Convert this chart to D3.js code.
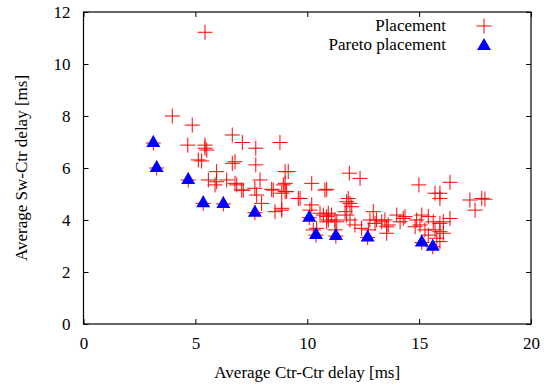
<!DOCTYPE html>
<html>
<head>
<meta charset="utf-8">
<script src="https://cdn.jsdelivr.net/npm/d3@7"></script>
<style>
  body { margin: 0; background: #fff; }
  svg text { font-family: "Liberation Serif", "Times New Roman", serif; fill: #000; }
</style>
</head>
<body>
<div id="chart"></div>
<script>
// chart size
let width = 544;
let height = 387;
let margin = {top: 12, right: 13, bottom: 63, left: 83.5};

// tick values
let xTicks = [0, 5, 10, 15, 20];
let yTicks = [0, 2, 4, 6, 8, 10, 12];

// all placements: [ctr-ctr, sw-ctr]
let placement = [
  [5.43, 11.22], [3.97, 8.0], [4.86, 7.65], [6.65, 7.27], [7.10, 6.98], [7.70, 6.76],
  [8.78, 6.98], [4.66, 6.88], [5.43, 6.88], [5.43, 6.76], [5.51, 6.69], [5.28, 6.27],
  [5.13, 6.31], [6.77, 6.24], [6.65, 6.18], [7.70, 6.12], [5.95, 5.86], [9.01, 5.86],
  [9.15, 5.86], [5.58, 5.54], [5.95, 5.47], [5.88, 5.35], [6.40, 5.54], [6.85, 5.35],
  [7.14, 5.15], [7.89, 5.54], [7.66, 5.22], [8.48, 5.15], [8.93, 5.35], [9.08, 5.09],
  [9.60, 4.83], [7.96, 4.64], [7.74, 4.96], [8.56, 4.32], [8.86, 4.45], [7.07, 5.15],
  [6.77, 5.41], [8.41, 5.18], [8.86, 5.03], [10.20, 5.41], [10.79, 5.15], [9.68, 4.83],
  [8.86, 4.38], [10.20, 4.58], [10.57, 4.26], [10.87, 4.13], [10.12, 4.38], [10.87, 3.93],
  [9.01, 5.41], [9.01, 5.09], [10.87, 5.18], [11.88, 5.80], [12.36, 5.60], [11.76, 4.70],
  [11.83, 4.83], [11.99, 4.51], [11.69, 4.32], [10.72, 4.19], [10.94, 4.26], [11.24, 4.0],
  [10.94, 4.0], [11.91, 4.0], [12.13, 3.81], [12.95, 4.32], [12.80, 4.0], [13.10, 4.0],
  [13.55, 3.74], [13.47, 4.0], [14.00, 4.19], [14.37, 4.13], [14.15, 3.93], [14.99, 5.35],
  [14.82, 3.74], [12.73, 3.62], [10.27, 3.62], [10.42, 3.68], [11.24, 3.62], [11.91, 4.64],
  [11.09, 4.19], [11.32, 3.93], [11.76, 4.19], [13.03, 3.87], [13.33, 3.93], [13.62, 3.81],
  [13.55, 3.49], [14.89, 4.0], [15.04, 3.81], [12.43, 3.68], [16.38, 5.45], [15.71, 5.03],
  [15.93, 5.03], [15.93, 4.83], [17.27, 4.77], [17.80, 4.83], [17.94, 4.80], [17.50, 4.38],
  [14.29, 4.06], [15.12, 4.19], [15.41, 4.13], [15.63, 3.93], [15.93, 3.87], [16.08, 3.93],
  [16.38, 4.06], [15.71, 3.62], [15.93, 3.55], [16.08, 3.49], [15.79, 3.30], [15.93, 3.17],
  [15.26, 3.62], [15.41, 3.42],
  [3.12, 6.96], [3.27, 6.0], [4.68, 5.54], [5.35, 4.64], [6.25, 4.62], [7.66, 4.28],
  [10.09, 4.09], [10.39, 3.42], [11.28, 3.38], [12.70, 3.33], [15.12, 3.13], [15.61, 2.97]
];

// pareto-optimal placements
let pareto = [
  [3.12, 6.96], [3.27, 6.0], [4.68, 5.54], [5.35, 4.64], [6.25, 4.62], [7.66, 4.28],
  [10.09, 4.09], [10.39, 3.42], [11.28, 3.38], [12.70, 3.33], [15.12, 3.13], [15.61, 2.97]
];

let legendNames = ["Placement", "Pareto placement"];

let innerWidth = width - margin.left - margin.right;
let innerHeight = height - margin.top - margin.bottom;

let xScale = d3.scaleLinear().domain([0, 20]).range([0, innerWidth]);
let yScale = d3.scaleLinear().domain([0, 12]).range([innerHeight, 0]);

let svg = d3.select("#chart").append("svg")
  .attr("width", width)
  .attr("height", height);

let g = svg.append("g").attr("transform", `translate(${margin.left}, ${margin.top})`);

// gnuplot style: inward ticks on all sides
function styleAxis(sel) {
  sel.select(".domain").remove();
  sel.selectAll(".tick line").attr("stroke", "#000");
  sel.selectAll("text").style("font-size", "17px");
}
// mirrored axes carry ticks only
function ticksOnly(sel) {
  sel.select(".domain").remove();
  sel.selectAll(".tick line").attr("stroke", "#000");
  sel.selectAll("text").remove();
}

g.append("g").attr("transform", `translate(0, ${innerHeight})`)
  .call(d3.axisBottom(xScale).tickValues(xTicks).tickSizeInner(-5).tickSizeOuter(0).tickPadding(13))
  .call(styleAxis);
g.append("g")
  .call(d3.axisLeft(yScale).tickValues(yTicks).tickSizeInner(-5).tickSizeOuter(0).tickPadding(13))
  .call(styleAxis);
g.append("g")
  .call(d3.axisTop(xScale).tickValues(xTicks).tickSizeInner(-5).tickSizeOuter(0))
  .call(ticksOnly);
g.append("g").attr("transform", `translate(${innerWidth}, 0)`)
  .call(d3.axisRight(yScale).tickValues(yTicks).tickSizeInner(-5).tickSizeOuter(0))
  .call(ticksOnly);

g.append("rect")
  .attr("width", innerWidth)
  .attr("height", innerHeight)
  .attr("fill", "none")
  .attr("stroke", "#000")
  .attr("stroke-width", 1.2);

let crossSize = 7.5;
function crossPath(cx, cy) {
  return `M${cx - crossSize},${cy}H${cx + crossSize}M${cx},${cy - crossSize}V${cy + crossSize}`;
}
function trianglePath(cx, cy) {
  return `M${cx},${cy - 8}L${cx + 7},${cy + 4}L${cx - 7},${cy + 4}Z`;
}

g.selectAll(".placement")
  .data(placement)
  .enter().append("path")
  .attr("class", "placement")
  .attr("d", d => crossPath(xScale(d[0]), yScale(d[1])))
  .attr("stroke", "#ff0000")
  .attr("stroke-width", 1)
  .attr("fill", "none");

g.selectAll(".pareto")
  .data(pareto)
  .enter().append("path")
  .attr("class", "pareto")
  .attr("d", d => trianglePath(xScale(d[0]), yScale(d[1])))
  .attr("fill", "#0000ff");

// legend
let legend = svg.append("g");
legend.append("text")
  .attr("x", 446).attr("y", 31)
  .attr("text-anchor", "end")
  .style("font-size", "17px")
  .text(legendNames[0]);
legend.append("path")
  .attr("d", crossPath(484, 26))
  .attr("stroke", "#ff0000")
  .attr("fill", "none");
legend.append("text")
  .attr("x", 446).attr("y", 50)
  .attr("text-anchor", "end")
  .style("font-size", "17px")
  .text(legendNames[1]);
legend.append("path")
  .attr("d", trianglePath(484, 46))
  .attr("fill", "#0000ff");

// axis titles
svg.append("text")
  .attr("x", margin.left + innerWidth / 2)
  .attr("y", 378)
  .attr("text-anchor", "middle")
  .style("font-size", "17px")
  .text("Average Ctr-Ctr delay [ms]");

svg.append("text")
  .attr("transform", `translate(27, ${margin.top + innerHeight / 2}) rotate(-90)`)
  .attr("text-anchor", "middle")
  .style("font-size", "17px")
  .text("Average Sw-Ctr delay [ms]");
</script>
</body>
</html>
